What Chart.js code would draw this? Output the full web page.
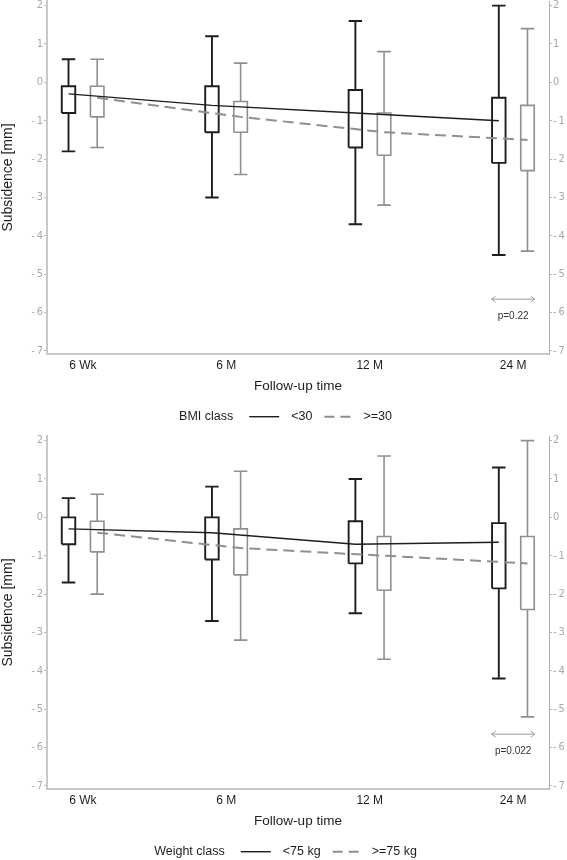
<!DOCTYPE html>
<html>
<head>
<meta charset="utf-8">
<script src="https://cdn.jsdelivr.net/npm/chart.js@4/dist/chart.umd.min.js"></script>
<style>
  body { margin: 0; background: #fff; }
  canvas { display: block; }
</style>
</head>
<body>
<canvas id="bmi" width="567" height="435"></canvas>
<canvas id="weight" width="567" height="425"></canvas>
<script>
const timepoints = ['6 Wk', '6 M', '12 M', '24 M'];
const yTicks = [2, 1, 0, -1, -2, -3, -4, -5, -6, -7];

// BMI class <30
const bmiLowMax  = [0.6, 1.2, 1.6, 2.0];
const bmiLowQ3   = [-0.1, -0.1, -0.2, -0.4];
const bmiLowQ1   = [-0.8, -1.3, -1.7, -2.1];
const bmiLowMin  = [-1.8, -3.0, -3.7, -4.5];
const bmiLowMean = [-0.3, -0.6, -0.8, -1.0];
// BMI class >=30
const bmiHighMax  = [0.6, 0.5, 0.8, 1.4];
const bmiHighQ3   = [-0.1, -0.5, -0.8, -0.6];
const bmiHighQ1   = [-0.9, -1.3, -1.9, -2.3];
const bmiHighMin  = [-1.7, -2.4, -3.2, -4.4];
const bmiHighMean = [-0.4, -0.9, -1.3, -1.5];

// weight class <75 kg
const wLowMax  = [0.5, 0.8, 1.0, 1.3];
const wLowQ3   = [0.0, 0.0, -0.1, -0.15];
const wLowQ1   = [-0.7, -1.1, -1.2, -1.85];
const wLowMin  = [-1.7, -2.7, -2.5, -4.2];
const wLowMean = [-0.3, -0.4, -0.7, -0.65];
// weight class >=75 kg
const wHighMax  = [0.6, 1.2, 1.6, 2.0];
const wHighQ3   = [-0.1, -0.3, -0.5, -0.5];
const wHighQ1   = [-0.9, -1.5, -1.9, -2.4];
const wHighMin  = [-2.0, -3.2, -3.7, -5.2];
const wHighMean = [-0.4, -0.8, -1.0, -1.2];

const pValues = ['p=0.22', 'p=0.022'];

const DARK = '#1e1e1e';
const GREY = '#8f8f8f';
const SANS = "'Liberation Sans', Arial, sans-serif";
const NARROW = "'Liberation Sans Narrow', 'DejaVu Sans Condensed', sans-serif";

// box + whiskers as line segments in data units
function boxPoints(off, max, q3, q1, min) {
  const hw = 0.047;
  const pts = [];
  timepoints.forEach((t, i) => {
    const x = i + off;
    pts.push({x: x - hw, y: q1[i]}, {x: x + hw, y: q1[i]}, {x: x + hw, y: q3[i]},
             {x: x - hw, y: q3[i]}, {x: x - hw, y: q1[i]}, {x: x, y: null});
    pts.push({x: x, y: q3[i]}, {x: x, y: max[i]}, {x: x, y: null});
    pts.push({x: x - hw, y: max[i]}, {x: x + hw, y: max[i]}, {x: x, y: null});
    pts.push({x: x, y: q1[i]}, {x: x, y: min[i]}, {x: x, y: null});
    pts.push({x: x - hw, y: min[i]}, {x: x + hw, y: min[i]}, {x: x, y: null});
  });
  return pts;
}

function meanPoints(off, mean) {
  return mean.map((m, i) => ({x: i + off, y: m}));
}

const fmtY = v => v < 0 ? '-\u2009' + Math.abs(v) : String(v);

function makePanel(id, low, high, legendTitle, labels, pText) {
  const legendPlugin = {
    id: 'legendRow',
    afterDraw(chart) {
      const ctx = chart.ctx;
      const y = 416.7;
      ctx.save();
      ctx.font = '12.5px ' + SANS;
      ctx.fillStyle = DARK;
      ctx.textBaseline = 'middle';
      const wT = ctx.measureText(legendTitle).width;
      const w1 = ctx.measureText(labels[0]).width;
      const w2 = ctx.measureText(labels[1]).width;
      const total = wT + 16 + 30 + 12 + w1 + 12 + 27 + 12 + w2;
      let x = 285.5 - total / 2;
      ctx.fillText(legendTitle, x, y);
      x += wT + 16;
      ctx.strokeStyle = DARK; ctx.lineWidth = 1.4;
      ctx.beginPath(); ctx.moveTo(x, y); ctx.lineTo(x + 30, y); ctx.stroke();
      x += 30 + 12;
      ctx.fillText(labels[0], x, y);
      x += w1 + 12;
      ctx.strokeStyle = GREY; ctx.lineWidth = 2; ctx.setLineDash([10, 6]);
      ctx.beginPath(); ctx.moveTo(x, y); ctx.lineTo(x + 27, y); ctx.stroke();
      ctx.setLineDash([]);
      x += 27 + 12;
      ctx.fillText(labels[1], x, y);
      ctx.restore();
    }
  };

  const pPlugin = {
    id: 'pArrow',
    afterDatasetsDraw(chart) {
      const {ctx, scales: {x, y}} = chart;
      const x0 = x.getPixelForValue(3 - 0.15);
      const x1 = x.getPixelForValue(3 + 0.15);
      const ya = y.getPixelForValue(-5.65);
      ctx.save();
      ctx.strokeStyle = '#9a9a9a';
      ctx.lineWidth = 1;
      ctx.beginPath();
      ctx.moveTo(x0, ya); ctx.lineTo(x1, ya);
      ctx.moveTo(x0 + 4, ya - 3); ctx.lineTo(x0, ya); ctx.lineTo(x0 + 4, ya + 3);
      ctx.moveTo(x1 - 4, ya - 3); ctx.lineTo(x1, ya); ctx.lineTo(x1 - 4, ya + 3);
      ctx.stroke();
      ctx.font = '10px ' + SANS;
      ctx.fillStyle = '#333';
      ctx.textAlign = 'center';
      ctx.textBaseline = 'middle';
      ctx.fillText(pText, x.getPixelForValue(3), y.getPixelForValue(-6.1));
      ctx.restore();
    }
  };

  const yCommon = {
    type: 'linear',
    min: -7.08,
    max: 2.12,
    afterBuildTicks: s => { s.ticks = yTicks.map(v => ({value: v})); },
    ticks: { callback: fmtY, font: {family: NARROW, size: 11}, color: '#a8a8a8', padding: 1 },
    grid: { drawOnChartArea: false, tickLength: 3, color: '#b8b8b8' }
  };

  new Chart(id, {
    type: 'scatter',
    data: {
      datasets: [
        { data: meanPoints(-0.1, low.mean), showLine: true, borderColor: DARK, borderWidth: 1.4, pointRadius: 0 },
        { data: meanPoints(0.1, high.mean), showLine: true, borderColor: GREY, borderWidth: 2, borderDash: [11, 6], pointRadius: 0 },
        { data: boxPoints(-0.1, low.max, low.q3, low.q1, low.min), showLine: true, borderColor: DARK, borderWidth: 1.9, pointRadius: 0, borderCapStyle: 'butt', borderJoinStyle: 'miter' },
        { data: boxPoints(0.1, high.max, high.q3, high.q1, high.min), showLine: true, borderColor: GREY, borderWidth: 1.6, pointRadius: 0, borderCapStyle: 'butt', borderJoinStyle: 'miter' }
      ]
    },
    options: {
      responsive: false,
      animation: false,
      events: [],
      layout: { padding: { top: 1, left: 0, right: 0, bottom: id === 'bmi' ? 41 : 31 } },
      plugins: { legend: { display: false }, tooltip: { enabled: false } },
      scales: {
        x: {
          type: 'linear',
          min: -0.25,
          max: 3.25,
          afterBuildTicks: s => { s.ticks = timepoints.map((t, i) => ({value: i})); },
          afterFit: s => { s.height = 40; s.paddingLeft = 0; s.paddingRight = 0; },
          ticks: { callback: v => timepoints[v], font: {family: SANS, size: 12}, color: DARK, padding: 4, autoSkip: false, maxRotation: 0 },
          grid: { display: false, drawTicks: false },
          border: { display: true, color: '#c8c8c8', width: 2 },
          title: { display: true, text: 'Follow-up time', font: {family: SANS, size: 13.5}, color: DARK, padding: {top: 5, bottom: 0} }
        },
        y: Object.assign({}, yCommon, {
          position: 'left',
          afterFit: s => { s.width = 47; s.paddingTop = 0; s.paddingBottom = 0; },
          border: { display: true, color: '#c8c8c8', width: 2 },
          title: { display: true, text: 'Subsidence [mm]', font: {family: SANS, size: 14}, color: DARK, padding: 0 }
        }),
        y2: Object.assign({}, yCommon, {
          position: 'right',
          afterFit: s => { s.width = 18; s.paddingTop = 0; s.paddingBottom = 0; },
          border: { display: true, color: '#b0b0b0', width: 1 }
        })
      }
    },
    plugins: [legendPlugin, pPlugin]
  });
}

makePanel('bmi',
  {max: bmiLowMax, q3: bmiLowQ3, q1: bmiLowQ1, min: bmiLowMin, mean: bmiLowMean},
  {max: bmiHighMax, q3: bmiHighQ3, q1: bmiHighQ1, min: bmiHighMin, mean: bmiHighMean},
  'BMI class', ['<30', '>=30'], pValues[0]);

makePanel('weight',
  {max: wLowMax, q3: wLowQ3, q1: wLowQ1, min: wLowMin, mean: wLowMean},
  {max: wHighMax, q3: wHighQ3, q1: wHighQ1, min: wHighMin, mean: wHighMean},
  'Weight class', ['<75 kg', '>=75 kg'], pValues[1]);
</script>
</body>
</html>
